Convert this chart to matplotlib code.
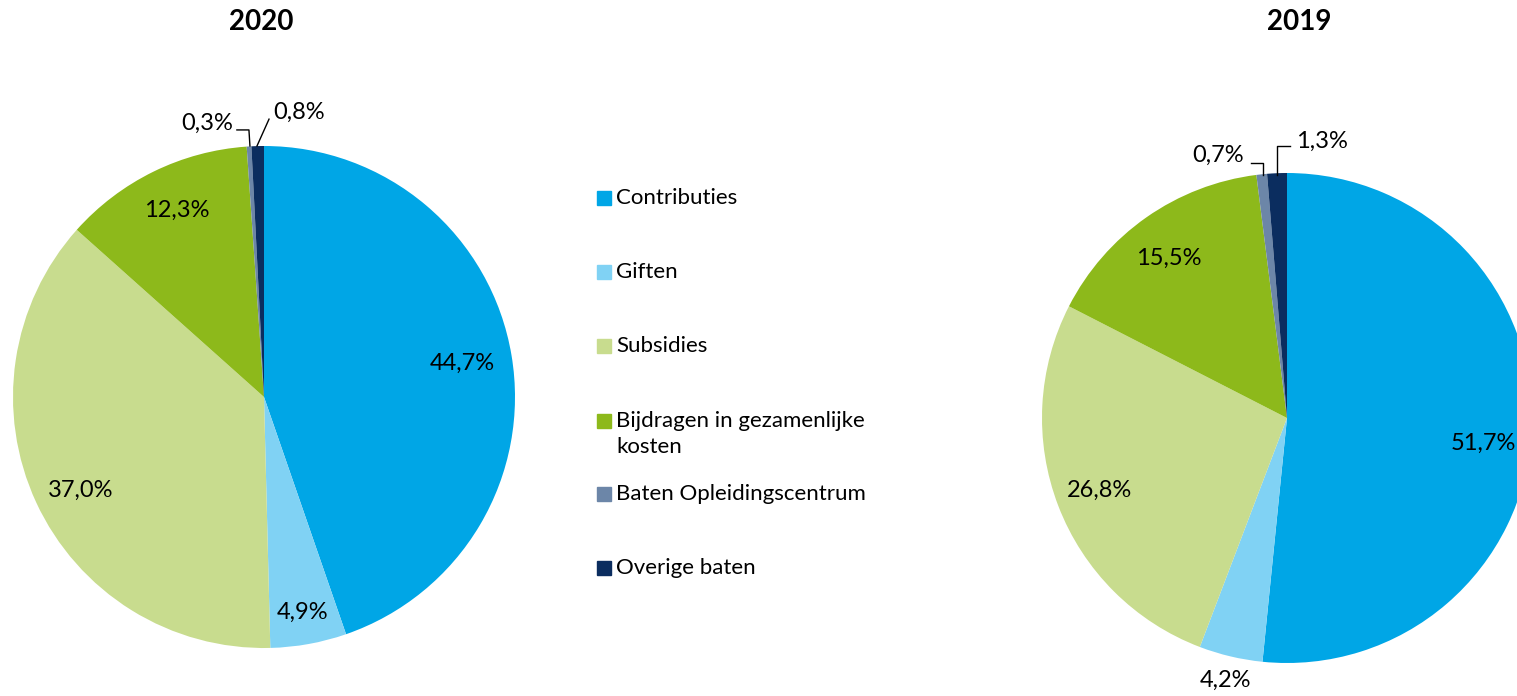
import numpy as np
import matplotlib.pyplot as plt
from matplotlib.patches import Rectangle

plt.rcParams["font.family"] = ["Lato", "DejaVu Sans"]

categories = ["Contributies", "Giften", "Subsidies",
              "Bijdragen in gezamenlijke\nkosten", "Baten Opleidingscentrum",
              "Overige baten"]
values_2020 = [44.7, 4.9, 37.0, 12.3, 0.3, 0.8]
values_2019 = [51.7, 4.2, 26.8, 15.5, 0.7, 1.3]
labels_2020 = ["44,7%", "4,9%", "37,0%", "12,3%", "0,3%", "0,8%"]
labels_2019 = ["51,7%", "4,2%", "26,8%", "15,5%", "0,7%", "1,3%"]

colors = ["#00A6E6", "#80D2F4", "#C8DC8E", "#8DB91B", "#6C86A8", "#0B2D5F"]

W, H = 1517, 696
fig = plt.figure(figsize=(W / 100, H / 100), dpi=100)


def pie_axes(cx, cy, r):
    ax = fig.add_axes([(cx - r) / W, (H - cy - r) / H, 2 * r / W, 2 * r / H])
    ax.axis("off")
    return ax


def draw_pie(ax, values, labels, label_r, nudge, outside):
    wedges, _ = ax.pie(values, colors=colors, startangle=90, counterclock=False,
                       radius=1, wedgeprops=dict(linewidth=0))
    ax.set_xlim(-1, 1)
    ax.set_ylim(-1, 1)
    for i, w in enumerate(wedges):
        mid = np.deg2rad((w.theta1 + w.theta2) / 2 + nudge[i])
        x, y = np.cos(mid), np.sin(mid)
        if i in outside:
            (tx, ty), path, ha = outside[i]
            ax.plot(path[0], path[1], color="black", lw=1, clip_on=False)
            ax.text(tx, ty, labels[i], ha=ha, va="center", fontsize=17)
        else:
            r = label_r[i]
            ax.text(r * x, r * y, labels[i], ha="center", va="center", fontsize=17)
    return wedges


# 2020
ax1 = pie_axes(264, 397, 251)
draw_pie(ax1, values_2020, labels_2020,
         [0.80, 0.87, 0.82, 0.82, 1, 1],
         [0, 0, 2, -1, 0, 0],
         {4: ((-0.125, 1.09), ([-0.056, -0.06, -0.108], [1.0, 1.064, 1.064]), "right"),
          5: ((0.035, 1.135), ([-0.028, 0.02], [1.0, 1.107]), "left")})
fig.text(261 / W, 1 - 22 / H, "2020", ha="center", va="center",
         fontsize=20, fontweight="bold")

# 2019
ax2 = pie_axes(1287, 418, 245)
draw_pie(ax2, values_2019, labels_2019,
         [0.81, 1.1, 0.82, 0.81, 1, 1],
         [-4.5, 0, 0, 1.5, 0, 0],
         {4: ((-0.175, 1.073), ([-0.098, -0.098, -0.147], [0.99, 1.04, 1.04]), "right"),
          5: ((0.036, 1.13), ([-0.041, -0.041, 0.012], [0.99, 1.11, 1.11]), "left")})
fig.text(1299 / W, 1 - 22 / H, "2019", ha="center", va="center",
         fontsize=20, fontweight="bold")

# legend
leg_y = [198, 272, 346, 421, 494, 568]
for name, c, y in zip(categories, colors, leg_y):
    fig.patches.append(Rectangle((597 / W, (H - y - 7) / H), 14 / W, 14 / H,
                                 transform=fig.transFigure, color=c))
    fig.text(616 / W, 1 - (y - 10) / H, name, ha="left", va="top",
             fontsize=16, linespacing=1.35)

fig.savefig("out.png", dpi=100)
